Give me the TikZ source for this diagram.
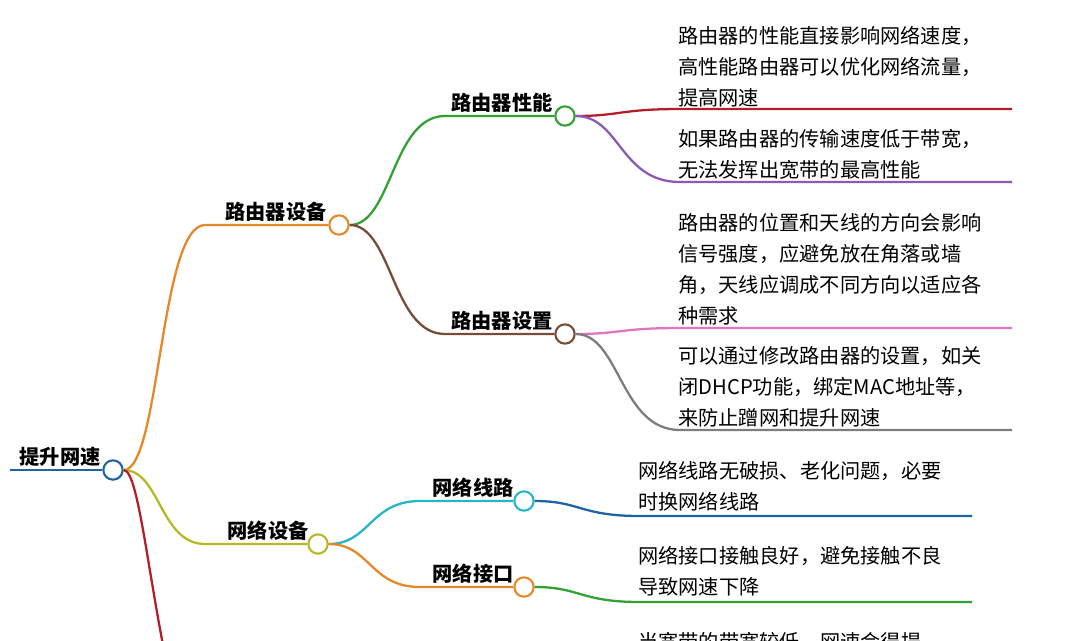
\documentclass[tikz,border=0pt]{standalone}
\usepackage{fontspec}
\setmainfont{Noto Sans CJK SC}
\definecolor{cblue}{RGB}{30,100,160}
\definecolor{corange}{RGB}{230,135,40}
\definecolor{colive}{RGB}{180,185,40}
\definecolor{cred}{RGB}{180,30,40}
\definecolor{cgreen}{RGB}{50,160,50}
\definecolor{cbrown}{RGB}{120,75,55}
\definecolor{ccyan}{RGB}{40,180,200}
\definecolor{cpurple}{RGB}{140,90,180}
\definecolor{cpink}{RGB}{220,120,190}
\definecolor{cgray}{RGB}{125,125,125}
\tikzset{
  dot/.style={circle,draw,fill=white,line width=1.2pt,inner sep=0pt,minimum size=11pt},
  topic/.style={font=\fontsize{11.5}{14}\selectfont\bfseries,anchor=south,inner sep=2pt},
  leaf/.style={font=\fontsize{11.5}{17.6}\selectfont,anchor=north west,align=left,inner sep=0pt},
  br/.style={line width=1.3pt},
}
\begin{document}
\begin{tikzpicture}[x=0.02cm,y=-0.02cm]
        \useasboundingbox (0,0) rectangle (1081,640);
        \clip (0,0) rectangle (1081,640);
        % root
        \coordinate (r0) at (10,470);
        \node[dot,draw=cblue] (root) at (113,470) {};
        \node[topic] at (60,470) {提升网速};
        \draw[br,cblue] (r0) -- (root);
        % level 1
        \coordinate (a0) at (205,225);
        \node[dot,draw=corange] (a) at (339,225) {};
        \node[topic] at (276,225) {路由器设备};
        \draw[br,corange] (root) .. controls (160,470) and (160,225) .. (a0) -- (a);
        \coordinate (b0) at (205,544);
        \node[dot,draw=colive] (b) at (318,544) {};
        \node[topic] at (268,544) {网络设备};
        \draw[br,colive] (root) .. controls (160,470) and (160,544) .. (b0) -- (b);
        \coordinate (c0) at (175,700);
        \draw[br,cred] (root) .. controls (140,470) and (150,600) .. (c0);
        % level 2
        \coordinate (a10) at (445,116);
        \node[dot,draw=cgreen] (a1) at (565,116) {};
        \node[topic] at (502,116) {路由器性能};
        \draw[br,cgreen] (a) .. controls (392,225) and (392,116) .. (a10) -- (a1);
        \coordinate (a20) at (445,334);
        \node[dot,draw=cbrown] (a2) at (565,334) {};
        \node[topic] at (502,334) {路由器设置};
        \draw[br,cbrown] (a) .. controls (392,225) and (392,334) .. (a20) -- (a2);
        \coordinate (b10) at (420,501);
        \node[dot,draw=ccyan] (b1) at (524,501) {};
        \node[topic] at (473,501) {网络线路};
        \draw[br,ccyan] (b) .. controls (370,544) and (370,501) .. (b10) -- (b1);
        \coordinate (b20) at (420,587);
        \node[dot,draw=corange] (b2) at (524,587) {};
        \node[topic] at (473,587) {网络接口};
        \draw[br,corange] (b) .. controls (370,544) and (370,587) .. (b20) -- (b2);
        % leaves
        \draw[br,cred] (a1) .. controls (620,116) and (620,109) .. (680,109) -- (1012,109);
        \node[leaf] (t1) at (678,26) {路由器的性能直接影响网络速度，\\高性能路由器可以优化网络流量，\\提高网速};
        \draw[br,cpurple] (a1) .. controls (620,116) and (620,182) .. (680,182) -- (1012,182);
        \node[leaf] (t2) at (678,129) {如果路由器的传输速度低于带宽，\\无法发挥出宽带的最高性能};
        \draw[br,cpink] (a2) .. controls (620,334) and (620,328) .. (680,328) -- (1012,328);
        \node[leaf] (t3) at (678,213) {路由器的位置和天线的方向会影响\\信号强度，应避免放在角落或墙\\角，天线应调成不同方向以适应各\\种需求};
        \draw[br,cgray] (a2) .. controls (620,334) and (620,430) .. (680,430) -- (1012,430);
        \node[leaf] (t4) at (678,346) {可以通过修改路由器的设置，如关\\闭DHCP功能，绑定MAC地址等，\\来防止蹭网和提升网速};
        \draw[br,cblue] (b1) .. controls (580,501) and (580,516) .. (640,516) -- (972,516);
        \node[leaf] (t5) at (638,461) {网络线路无破损、老化问题，必要\\时换网络线路};
        \draw[br,cgreen] (b2) .. controls (580,587) and (580,602) .. (640,602) -- (972,602);
        \node[leaf] (t6) at (638,546) {网络接口接触良好，避免接触不良\\导致网速下降};
        \node[leaf] (t7) at (638,632) {当宽带的带宽较低，网速会得提};
\end{tikzpicture}
\end{document}
